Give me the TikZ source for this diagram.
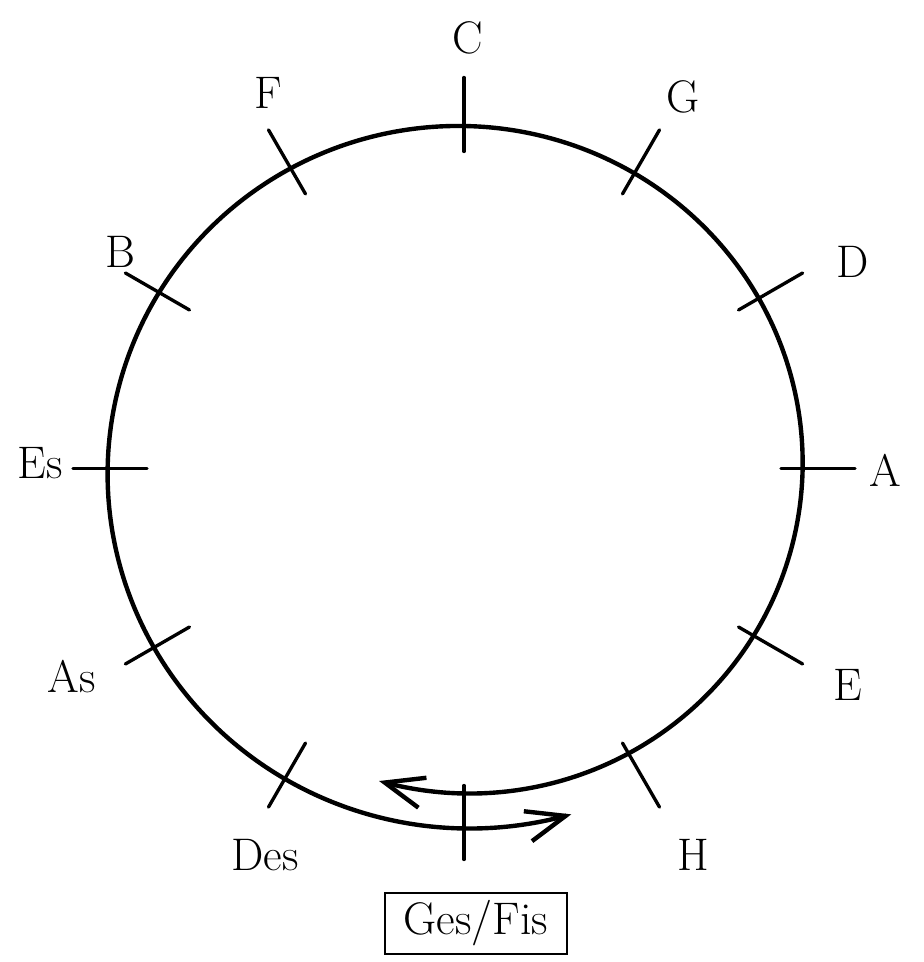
\documentclass[tikz,border=0pt]{standalone}
\usepackage{tikz}
\usetikzlibrary{arrows.meta}

\begin{document}
\begin{tikzpicture}[x=0.02cm, y=0.02cm, line cap=round,
    >={Straight Barb[length=0.78cm, width=0.62cm]},
    nhan/.style={font=\fontsize{26}{31}\selectfont, inner sep=0pt},
    vach/.style={line width=1.9pt}]
    \useasboundingbox (-464,-493.5) rectangle (459,468.5);

    % Vẽ vòng (hai đầu mũi tên ở dưới)
    \draw[line width=2.5pt, <->, samples=200, domain=-105:287, smooth]
        plot ({1.0146*(325+35*(\x+90)/360)*cos(\x)}, {(325+35*(\x+90)/360)*sin(\x)});

    % Các vạch chia
    \foreach \g in {0,30,...,330} {
        \draw[vach] (\g:317) -- (\g:391);
    }

    % Tên các nốt
    \foreach \ten/\px/\py in {C/4/430.5, G/219/371.5, D/389/206.5, A/421/-1.5,
        E/384/-216.5, H/229/-386.5, Des/-199/-386.5, As/-392/-208.5,
        Es/-424/5.5, B/-344/216.5, F/-196/375.5} {
        \node[nhan] (n\ten) at (\px,\py) {\ten};
    }

    % Ô ở dưới
    \node[nhan, draw, line width=0.9pt, minimum width=3.64cm, minimum height=1.22cm]
        (nGesFis) at (12,-455) {Ges/Fis};
\end{tikzpicture}
\end{document}
